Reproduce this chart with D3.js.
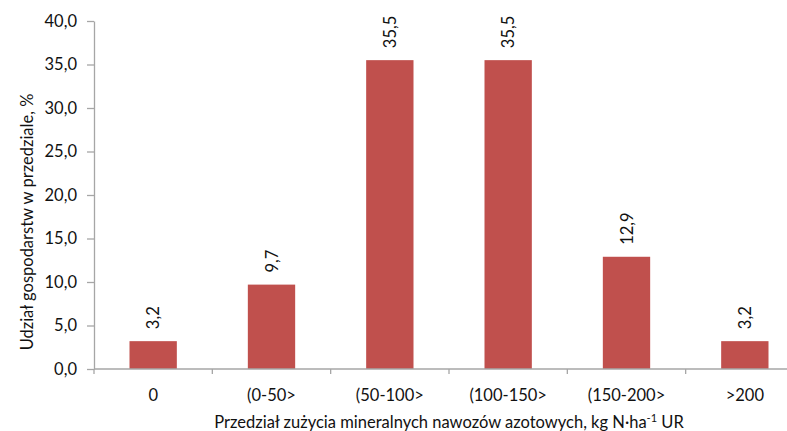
<!DOCTYPE html>
<html>
<head>
<meta charset="utf-8">
<script src="https://cdn.jsdelivr.net/npm/d3@7"></script>
<style>
  html, body { margin: 0; padding: 0; background: #fff; }
  svg { display: block; font-family: Lato, "Open Sans", sans-serif; }
</style>
</head>
<body>
<svg id="chart" width="787" height="431"></svg>
<script>
// Share of farms by mineral nitrogen fertiliser use interval
const categories = ["0", "(0-50>", "(50-100>", "(100-150>", "(150-200>", ">200"];
const shares = [3.2, 9.7, 35.5, 35.5, 12.9, 3.2];
const yTicks = [0, 5, 10, 15, 20, 25, 30, 35, 40];

const svg = d3.select("#chart");
const plot = { left: 94, right: 804, top: 21, bottom: 369 };
const axisColor = "#a6a6a6";
const barColor = "#c0504d";
const textColor = "#111";
const fontSize = "16.5px";

const x = d3.scaleBand().domain(categories).range([plot.left, plot.right])
  .paddingInner(0.6).paddingOuter(0.3);
const y = d3.scaleLinear().domain([0, 40]).range([plot.bottom, plot.top]);
const fmt = v => d3.format(".1f")(v).replace(".", ",");

// y axis
const yAxis = svg.append("g")
  .attr("transform", `translate(${plot.left},0)`)
  .call(d3.axisLeft(y).tickValues(yTicks).tickFormat(fmt).tickSizeInner(7).tickSizeOuter(0).tickPadding(10));
yAxis.select(".domain").attr("stroke", axisColor).attr("stroke-width", 1.3);
yAxis.selectAll(".tick line").attr("stroke", axisColor).attr("stroke-width", 1.3);
yAxis.selectAll(".tick text").attr("fill", textColor).style("font-size", fontSize).style("font-family", "Lato, sans-serif");

// bars
svg.append("g").selectAll("rect").data(categories).join("rect")
  .attr("x", d => x(d))
  .attr("y", (d, i) => y(shares[i]))
  .attr("width", x.bandwidth())
  .attr("height", (d, i) => y(0) - y(shares[i]))
  .attr("fill", barColor);

// x axis line and boundary ticks
svg.append("line")
  .attr("x1", plot.left).attr("x2", plot.right).attr("y1", y(0)).attr("y2", y(0))
  .attr("stroke", axisColor).attr("stroke-width", 1.3);
const bounds = d3.range(categories.length + 1).map(i => plot.left + i * x.step());
svg.append("g").selectAll("line").data(bounds).join("line")
  .attr("x1", d => d).attr("x2", d => d)
  .attr("y1", y(0)).attr("y2", y(0) + 5)
  .attr("stroke", axisColor).attr("stroke-width", 1.3);

// category labels
svg.append("g").selectAll("text").data(categories).join("text")
  .attr("x", d => x(d) + x.bandwidth() / 2)
  .attr("y", 401)
  .attr("text-anchor", "middle")
  .attr("fill", textColor)
  .style("font-size", fontSize)
  .text(d => d);

// value labels, rotated above bars
svg.append("g").selectAll("text").data(categories).join("text")
  .attr("transform", (d, i) => `translate(${x(d) + x.bandwidth() / 2 + 6},${y(shares[i]) - 12}) rotate(-90)`)
  .attr("text-anchor", "start")
  .attr("fill", textColor)
  .style("font-size", fontSize)
  .text((d, i) => fmt(shares[i]));

// axis titles
const xt = svg.append("text")
  .attr("x", (plot.left + plot.right) / 2)
  .attr("y", 428)
  .attr("text-anchor", "middle")
  .attr("fill", textColor)
  .style("font-size", fontSize);
xt.append("tspan").text("Przedział zużycia mineralnych nawozów azotowych, kg N·ha");
xt.append("tspan").attr("dy", -6).style("font-size", "11px").text("-1");
xt.append("tspan").attr("dy", 6).text(" UR");

svg.append("text")
  .attr("transform", "translate(33,222) rotate(-90)")
  .attr("text-anchor", "middle")
  .attr("fill", textColor)
  .style("font-size", fontSize)
  .text("Udział gospodarstw w przedziale, %");
</script>
</body>
</html>
